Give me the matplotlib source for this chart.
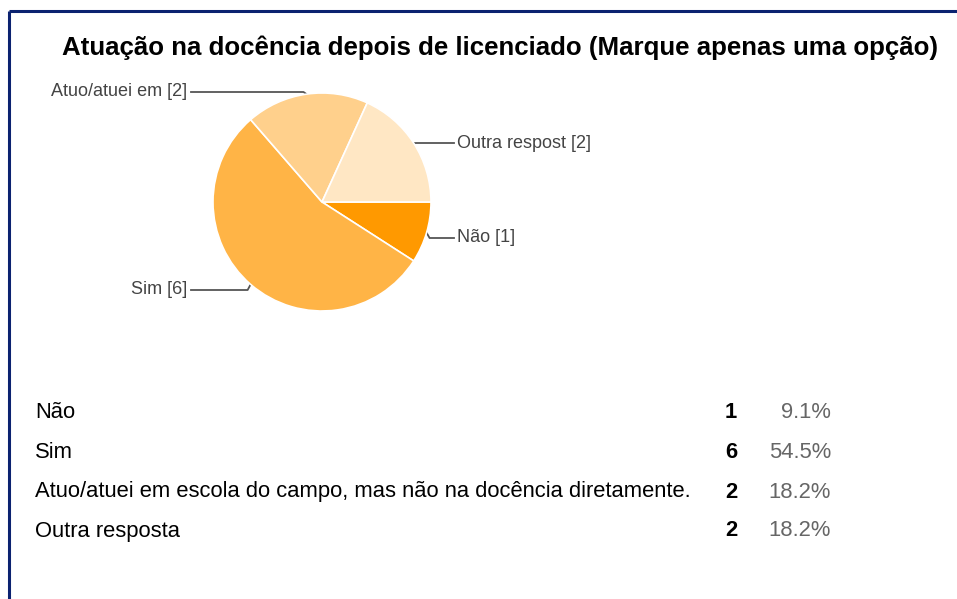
import matplotlib
matplotlib.use("Agg")
import matplotlib.pyplot as plt
import numpy as np

plt.rcParams['font.family'] = ['Liberation Sans', 'DejaVu Sans']

# data
categories = ["Não", "Sim", "Atuo/atuei em escola do campo, mas não na docência diretamente.", "Outra resposta"]
short_labels = ["Não [1]", "Sim [6]", "Atuo/atuei em [2]", "Outra respost [2]"]
counts = [1, 6, 2, 2]
percents = ["9.1%", "54.5%", "18.2%", "18.2%"]
colors = ["#FF9900", "#FFB446", "#FFD08C", "#FFE7C4"]

W, H = 957, 599
fig = plt.figure(figsize=(W / 100, H / 100), dpi=100)

# overlay in pixel coordinates for text and leader lines
ov = fig.add_axes([0, 0, 1, 1])
ov.set_xlim(0, W)
ov.set_ylim(H, 0)
ov.axis("off")

# frame lines (top and left)
ov.plot([9, W], [11, 11], color="#0B2270", lw=2.2, solid_capstyle="butt")
ov.plot([9, 9], [11, H], color="#0B2270", lw=2.2, solid_capstyle="butt")

ov.text(62, 48, "Atuação na docência depois de licenciado (Marque apenas uma opção)",
        fontsize=18.6, fontweight="bold", va="center", ha="left", color="#000000")

# pie
cx, cy, r = 322, 202, 109
ax = fig.add_axes([(cx - r) / W, 1 - (cy + r) / H, 2 * r / W, 2 * r / H])
wedges, _ = ax.pie(counts, colors=colors, startangle=0, counterclock=False,
                   wedgeprops=dict(edgecolor="white", linewidth=1.2))
ax.set_xlim(-1, 1)
ax.set_ylim(-1, 1)
ax.axis("off")

# leader labels
label_pos = [(457, 238, "left"), (187, 290, "right"), (187, 92, "right"), (457, 143, "left")]
to_pix = ax.transData + ov.transData.inverted()
for w, lab, (tx, ty, ha) in zip(wedges, short_labels, label_pos):
    ang = np.deg2rad((w.theta1 + w.theta2) / 2)
    ex, ey = to_pix.transform((np.cos(ang), np.sin(ang)))
    if ha == "left":
        xs = [ex, ex + 3, tx - 3]
    else:
        xs = [ex, ex - 3, tx + 4]
    ov.plot(xs, [ey, ty, ty], color="#555555", lw=1.3)
    ov.text(tx, ty, lab, ha=ha, va="center", fontsize=13, color="#444444")

# table
row_y = [413, 453, 492, 531]
for y, cat, n, p in zip(row_y, categories, counts, percents):
    ov.text(35, y, cat, ha="left", va="center", fontsize=15.8, color="#000000")
    ov.text(737, y, str(n), ha="right", va="center", fontsize=15.8, fontweight="bold", color="#000000")
    ov.text(831, y, p, ha="right", va="center", fontsize=15.8, color="#666666")

fig.savefig("out.png", dpi=100)
